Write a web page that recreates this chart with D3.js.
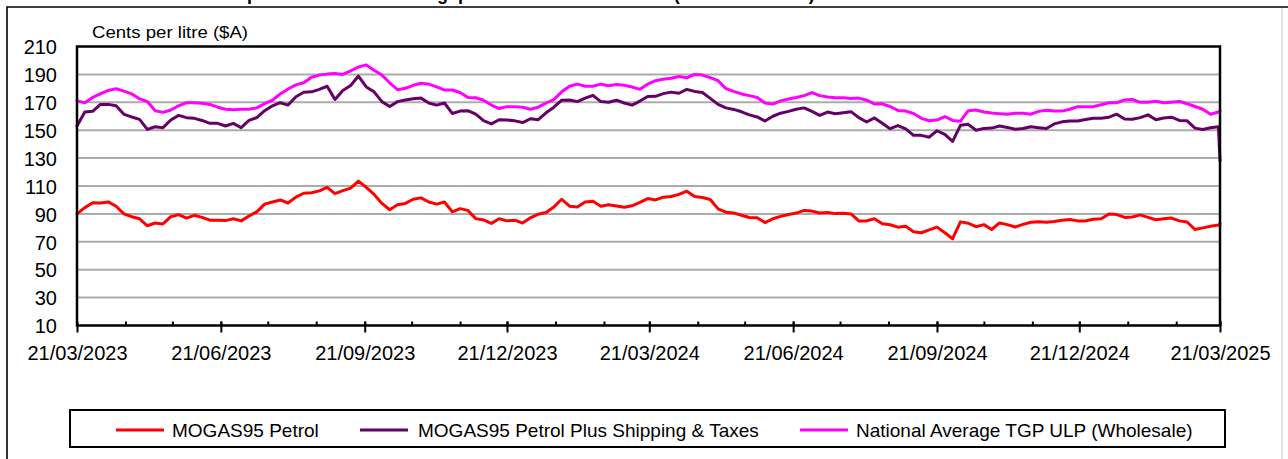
<!DOCTYPE html>
<html>
<head>
<meta charset="utf-8">
<script src="https://cdn.jsdelivr.net/npm/d3@7"></script>
<style>
  html, body { margin: 0; padding: 0; background: #fff; }
  svg { display: block; font-family: "Liberation Sans", Arial, sans-serif; }
</style>
</head>
<body>
<svg id="chart" width="1288" height="459"></svg>
<script>
const dates = [
"2023-03-21","2023-03-26","2023-03-31","2023-04-05","2023-04-10","2023-04-15","2023-04-20","2023-04-25","2023-04-30","2023-05-05",
"2023-05-10","2023-05-15","2023-05-20","2023-05-25","2023-05-30","2023-06-04","2023-06-09","2023-06-14","2023-06-19","2023-06-24",
"2023-06-29","2023-07-04","2023-07-09","2023-07-14","2023-07-19","2023-07-24","2023-07-29","2023-08-03","2023-08-08","2023-08-13",
"2023-08-18","2023-08-23","2023-08-28","2023-09-02","2023-09-07","2023-09-12","2023-09-17","2023-09-22","2023-09-27","2023-10-02",
"2023-10-07","2023-10-12","2023-10-17","2023-10-22","2023-10-27","2023-11-01","2023-11-06","2023-11-11","2023-11-16","2023-11-21",
"2023-11-26","2023-12-01","2023-12-06","2023-12-11","2023-12-16","2023-12-21","2023-12-26","2023-12-31","2024-01-05","2024-01-10",
"2024-01-15","2024-01-20","2024-01-25","2024-01-30","2024-02-04","2024-02-09","2024-02-14","2024-02-19","2024-02-24","2024-02-29",
"2024-03-05","2024-03-10","2024-03-15","2024-03-20","2024-03-25","2024-03-30","2024-04-04","2024-04-09","2024-04-14","2024-04-19",
"2024-04-24","2024-04-29","2024-05-04","2024-05-09","2024-05-14","2024-05-19","2024-05-24","2024-05-29","2024-06-03","2024-06-08",
"2024-06-13","2024-06-18","2024-06-23","2024-06-28","2024-07-03","2024-07-08","2024-07-13","2024-07-18","2024-07-23","2024-07-28",
"2024-08-02","2024-08-07","2024-08-12","2024-08-17","2024-08-22","2024-08-27","2024-09-01","2024-09-06","2024-09-11","2024-09-16",
"2024-09-21","2024-09-26","2024-10-01","2024-10-06","2024-10-11","2024-10-16","2024-10-21","2024-10-26","2024-10-31","2024-11-05",
"2024-11-10","2024-11-15","2024-11-20","2024-11-25","2024-11-30","2024-12-05","2024-12-10","2024-12-15","2024-12-20","2024-12-25",
"2024-12-30","2025-01-04","2025-01-09","2025-01-14","2025-01-19","2025-01-24","2025-01-29","2025-02-03","2025-02-08","2025-02-13",
"2025-02-18","2025-02-23","2025-02-28","2025-03-05","2025-03-10","2025-03-15","2025-03-20","2025-03-21"
];

const mogas95 = [
90,94.5,98,97.8,98.6,95.5,90,88,86.5,81.5,
83.5,82.8,88,89.5,87,89,87.5,85.5,85.5,85.2,
86.5,85,88.5,91.5,97,98.5,100,97.8,102,104.8,
105.2,106.5,109,104.5,106.7,108.5,113.5,109,104,97.5,
93,96.5,97.5,100.5,101.5,98.5,97,98.5,91.5,93.8,
92.5,86.6,85.7,83.2,86.5,85,85.5,83.4,87.2,89.8,
91,95,100.5,95.5,95,98.5,99,95.5,96.5,95.7,
94.8,95.8,98.3,101,100,102,102.5,104,106.3,102.5,
101.7,100.3,93.6,91.2,90.6,89,87.4,87.2,83.8,86.5,
88.2,89.6,90.6,92.5,92,90.6,91,90.2,90.5,90,
85,85,86.5,83,82.2,80.5,81.2,77.2,76.5,78.6,
80.5,76.5,72.2,84.3,83.3,80.8,82.3,78.8,83.5,82.3,
80.6,82.5,84,84.3,84,84.5,85.5,86,85,85,
86.2,86.5,90,89.5,87.5,87.8,89.3,87.5,85.8,86.5,
87,85,84.2,78.8,80,81.2,82,82.8
];

const mogas95PlusShippingTaxes = [
153,163,163.5,168.5,168.5,167.5,161.4,159.5,157.8,150.6,
152.5,151.8,157.3,160.6,159,158.5,157,154.9,154.9,153,
154.9,151.8,157,159,164,167.5,169.7,168,174,177.2,
177.5,179.3,181.5,172,178.5,182,188.8,181,177.5,170.5,
167,170.5,171.7,172.6,173,169.5,168,169.5,162,163.7,
164,161.5,156.8,154.5,157.5,157.3,156.7,155.5,158.2,157.5,
162.5,166.5,171.5,171.7,170.5,173,175,170.5,170,171.5,
169.5,168,170.9,174.2,174.3,176.2,177.3,176.5,179.3,177.8,
177,172.8,168.5,166,164.9,163.2,161,159.5,156.6,160,
162.2,163.5,165,166,163.5,160.6,163,161.8,162.5,163.3,
159,155.9,158.8,155,151.1,153.3,151,146.3,146.3,145,
149.6,147,142,153.5,154.2,150,151.3,151.5,153,152,
150.7,151.2,152.5,151.8,151.2,154.5,156,156.6,156.6,157.6,
158.5,158.5,159.3,161.5,158,157.8,159,161,157.5,158.7,
159.3,157,156.7,151.5,150.5,151.8,152.5,128
];

const nationalAvgTgpUlp = [
171,169.7,173.5,176,178.5,179.7,178,176,172.5,170.5,
164,162.8,164.5,167.5,169.7,169.7,169.3,168.5,166.5,165,
164.7,165,165,166,169,171.5,176,179.5,182.5,184,
188,189.5,190.2,190.6,190,192.5,195.3,196.8,193,189.5,
184,179,180,182.2,183.6,183,181,178.8,178.8,177,
173.5,173.3,171.5,168,165.5,166.9,166.9,166.5,165,166.5,
169.5,172,177.5,181.5,183,181.5,181.5,183,181.8,182.8,
182.2,181,179.3,183,185.5,186.6,187.2,188.5,187.6,190,
189.5,187.7,185.5,179.8,177.8,176,174.8,173.5,169.5,168.7,
171,172.4,173.5,174.8,177,174.8,173.8,173.3,173.3,172.8,
173,171.5,168.8,168.9,167,164.2,163.7,162,158.5,156.8,
157.3,159.8,157,156.5,164,164.5,163,162.3,161.8,161.4,
162.2,162.2,161.5,163.5,164.3,163.7,163.7,165,166.9,166.9,
166.9,168.3,169.7,169.7,171.7,172,170,170,170.7,169.7,
170.1,170.6,169,167,165,161.4,163,163.7
];

const seriesNames = ["MOGAS95 Petrol", "MOGAS95 Petrol Plus Shipping & Taxes", "National Average TGP ULP (Wholesale)"];
const seriesColors = ["#ff0000", "#660066", "#ff00ff"];
const yTicks = [10, 30, 50, 70, 90, 110, 130, 150, 170, 190, 210];
const xTickLabels = ["21/03/2023","21/06/2023","21/09/2023","21/12/2023","21/03/2024","21/06/2024","21/09/2024","21/12/2024","21/03/2025"];
const yAxisTitle = "Cents per litre ($A)";
const chartTitle = "Australian petrol benchmark: Singapore MOGAS95 and TGP (AUD cents/litre)";

const parse = d3.timeParse("%Y-%m-%d");
const parseTick = d3.timeParse("%d/%m/%Y");
const dts = dates.map(parse);
const series = [mogas95, mogas95PlusShippingTaxes, nationalAvgTgpUlp].map((vals, i) => ({
  name: seriesNames[i], color: seriesColors[i],
  points: vals.map((v, j) => ({ date: dts[j], value: v }))
}));

const svg = d3.select("#chart");
const W = 1288, H = 459;
const plot = { left: 77, right: 1220, top: 46.5, bottom: 325.5 };

svg.append("rect").attr("width", W).attr("height", H).attr("fill", "#fff");

// outer frame
svg.append("path").attr("d", `M7,${H} V7 H${W}`).attr("fill", "none").attr("stroke", "#000").attr("stroke-width", 1.6);
svg.append("line").attr("x1", 1282).attr("x2", 1282).attr("y1", 8).attr("y2", H)
  .attr("stroke", "#c8c8c8").attr("stroke-width", 1);

// title, cut off by the top edge as in the reference (only descenders visible)
svg.append("text").attr("x", 154).attr("y", 0.3)
  .attr("font-size", 18).attr("font-weight", "bold").attr("fill", "#000")
  .text(chartTitle);

const x = d3.scaleTime()
  .domain([parseTick(xTickLabels[0]), parseTick(xTickLabels[xTickLabels.length - 1])])
  .range([plot.left, plot.right]);
const y = d3.scaleLinear().domain([yTicks[0], yTicks[yTicks.length - 1]]).range([plot.bottom, plot.top]);

// gridlines
svg.append("g").selectAll("line").data(yTicks.slice(1, -1)).join("line")
  .attr("x1", plot.left).attr("x2", plot.right)
  .attr("y1", d => y(d)).attr("y2", d => y(d))
  .attr("stroke", "#ababab").attr("stroke-width", 2);

// y axis labels
const yAxis = d3.axisLeft(y).tickValues(yTicks).tickSize(0).tickPadding(20);
const yg = svg.append("g").attr("transform", `translate(${plot.left},0)`).call(yAxis);
yg.select(".domain").remove();
yg.selectAll("text").attr("font-size", 20).attr("font-family", "Liberation Sans, Arial, sans-serif")
  .attr("fill", "#000").attr("x", 57 - plot.left).attr("dy", "0.36em");

// monthly minor ticks
const monthTicks = d3.timeMonth.range(parseTick("21/03/2023"), d3.timeDay.offset(parseTick("21/03/2025"), 1))
  .map(d => new Date(d.getFullYear(), d.getMonth(), 21));
const minorAxis = d3.axisBottom(x).tickValues(monthTicks).tickSizeInner(-4).tickSizeOuter(0).tickFormat("");
const mg = svg.append("g").attr("transform", `translate(0,${plot.bottom})`).call(minorAxis);
mg.select(".domain").remove();
mg.selectAll("line").attr("stroke", "#000").attr("stroke-width", 2);

// major ticks with labels
const majorTicks = xTickLabels.map(parseTick);
const majorAxis = d3.axisBottom(x).tickValues(majorTicks).tickSizeOuter(0).tickSize(7).tickPadding(13)
  .tickFormat(d3.timeFormat("%d/%m/%Y"));
const xg = svg.append("g").attr("transform", `translate(0,${plot.bottom})`).call(majorAxis);
xg.select(".domain").remove();
xg.selectAll("line").attr("stroke", "#000").attr("stroke-width", 2).attr("y1", -4);
xg.selectAll("text").attr("font-size", 20).attr("font-family", "Liberation Sans, Arial, sans-serif").attr("fill", "#000");

// series lines
const line = d3.line().x(d => x(d.date)).y(d => y(d.value));
svg.append("g").selectAll("path").data(series).join("path")
  .attr("d", d => line(d.points))
  .attr("fill", "none").attr("stroke", d => d.color).attr("stroke-width", 3)
  .attr("stroke-linejoin", "round").attr("stroke-linecap", "round");

// plot frame
svg.append("rect").attr("x", plot.left).attr("y", plot.top)
  .attr("width", plot.right - plot.left).attr("height", plot.bottom - plot.top)
  .attr("fill", "none").attr("stroke", "#000").attr("stroke-width", 2.5);

// y axis title
svg.append("text").attr("x", 92).attr("y", 38).attr("font-size", 16)
  .attr("textLength", 156).attr("lengthAdjust", "spacingAndGlyphs")
  .attr("fill", "#000").text(yAxisTitle);

// legend
const lg = svg.append("g");
lg.append("rect").attr("x", 70).attr("y", 410).attr("width", 1155).attr("height", 37)
  .attr("fill", "#fff").attr("stroke", "#000").attr("stroke-width", 2);
const legendX = [{ lx: 116, tx: 172 }, { lx: 360, tx: 418 }, { lx: 800, tx: 856 }];
series.forEach((s, i) => {
  lg.append("line").attr("x1", legendX[i].lx).attr("x2", legendX[i].lx + 48)
    .attr("y1", 430).attr("y2", 430).attr("stroke", s.color).attr("stroke-width", 3);
  lg.append("text").attr("x", legendX[i].tx).attr("y", 437).attr("font-size", 19).attr("fill", "#000").text(s.name);
});
</script>
</body>
</html>
